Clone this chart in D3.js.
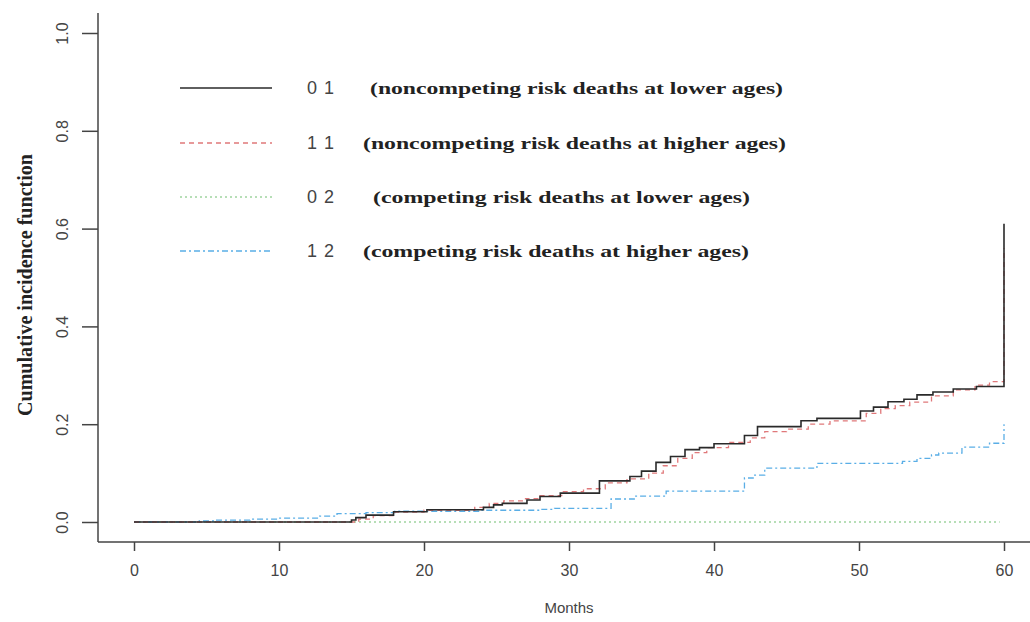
<!DOCTYPE html>
<html>
<head>
<meta charset="utf-8">
<script src="https://cdn.jsdelivr.net/npm/d3@7"></script>
<style>
  body { margin: 0; background: #fff; }
  svg { display: block; }
</style>
</head>
<body>
<div id="chart"></div>
<script>
// step curves (months, cumulative incidence)
var months01 = [0, 15.0, 15.3, 16.0, 17.9, 20.2, 24.1, 24.8, 25.4, 27.1, 28.0, 29.4, 32.1, 34.2, 35.0, 36.0, 37.0, 38.0, 39.0, 40.0, 42.1, 43.0, 46.0, 47.1, 50.1, 51.0, 52.0, 53.1, 54.0, 55.1, 56.5, 58.1, 60.0];
var cif01 = [0, 0.004, 0.009, 0.014, 0.021, 0.025, 0.030, 0.035, 0.038, 0.045, 0.052, 0.059, 0.084, 0.093, 0.104, 0.122, 0.134, 0.148, 0.152, 0.160, 0.177, 0.195, 0.207, 0.212, 0.227, 0.235, 0.246, 0.251, 0.260, 0.266, 0.272, 0.277, 0.61];

var months11 = [0, 15.5, 16.5, 18.0, 20.0, 23.5, 24.5, 25.5, 27.0, 28.0, 29.5, 31.0, 32.5, 34.0, 35.5, 36.5, 37.5, 38.5, 39.5, 41.0, 42.5, 43.5, 45.0, 46.5, 48.0, 50.5, 51.5, 52.5, 53.5, 55.0, 56.5, 58.0, 59.0, 60.0];
var cif11 = [0, 0.006, 0.013, 0.020, 0.024, 0.030, 0.038, 0.043, 0.048, 0.054, 0.062, 0.068, 0.080, 0.088, 0.100, 0.115, 0.130, 0.142, 0.152, 0.163, 0.172, 0.185, 0.190, 0.200, 0.207, 0.222, 0.232, 0.238, 0.245, 0.258, 0.270, 0.280, 0.287, 0.56];

var months02 = [0, 59.7];
var cif02 = [0, 0];

var months12 = [0, 4.5, 5.7, 8.0, 10.0, 12.8, 14.0, 16.0, 18.0, 24.0, 28.0, 29.0, 32.9, 34.5, 36.7, 42.1, 42.7, 43.5, 47.1, 53.0, 54.0, 55.0, 55.5, 57.1, 59.0, 60.0];
var cif12 = [0, 0.002, 0.004, 0.006, 0.008, 0.012, 0.017, 0.019, 0.022, 0.024, 0.026, 0.028, 0.047, 0.053, 0.063, 0.090, 0.096, 0.110, 0.120, 0.124, 0.130, 0.137, 0.141, 0.153, 0.161, 0.20];

var groupCodes = ["0 1", "1 1", "0 2", "1 2"];
var groupLabels = [
  "(noncompeting risk deaths at lower ages)",
  "(noncompeting risk deaths at higher ages)",
  "(competing risk deaths at lower ages)",
  "(competing risk deaths at higher ages)"
];
var xTicks = [0, 10, 20, 30, 40, 50, 60];
var yTicks = [0, 0.2, 0.4, 0.6, 0.8, 1.0];

var width = 1030, height = 622;

var svg = d3.select("#chart").append("svg")
  .attr("width", width)
  .attr("height", height)
  .style("background", "#fff");

var x = d3.scaleLinear().domain([0, 60]).range([134, 1004]);
var y = d3.scaleLinear().domain([0, 1]).range([522, 33]);

// L shaped frame like R's bty="l"
svg.append("line")
  .attr("x1", 98).attr("x2", 98)
  .attr("y1", 13).attr("y2", 542)
  .attr("stroke", "#444").attr("stroke-width", 1.5);
svg.append("line")
  .attr("x1", 98).attr("x2", width)
  .attr("y1", 542).attr("y2", 542)
  .attr("stroke", "#444").attr("stroke-width", 1.5);

var xAxis = d3.axisBottom(x).tickValues(xTicks).tickSize(9).tickPadding(14)
  .tickFormat(d3.format("d"));
svg.append("g")
  .attr("transform", "translate(0,542)")
  .call(xAxis)
  .call(g => g.select(".domain").remove())
  .call(g => g.selectAll("line").attr("stroke", "#444").attr("stroke-width", 1.5))
  .call(g => g.selectAll("text")
    .attr("fill", "#444")
    .style("font-family", "Liberation Sans, Arial, sans-serif")
    .style("font-size", "16px"));

var yAxis = d3.axisLeft(y).tickValues(yTicks).tickSize(16)
  .tickFormat(d3.format(".1f"));
svg.append("g")
  .attr("transform", "translate(98,0)")
  .call(yAxis)
  .call(g => g.select(".domain").remove())
  .call(g => g.selectAll("line").attr("stroke", "#444").attr("stroke-width", 1.5))
  .call(g => g.selectAll("text")
    .attr("transform", "rotate(-90)")
    .attr("x", 0)
    .attr("y", -36)
    .attr("dy", "0.35em")
    .attr("text-anchor", "middle")
    .attr("fill", "#444")
    .style("font-family", "Liberation Sans, Arial, sans-serif")
    .style("font-size", "16px"));

// axis titles
svg.append("text")
  .attr("x", x(30))
  .attr("y", 608)
  .attr("dy", "0.35em")
  .attr("text-anchor", "middle")
  .attr("fill", "#444")
  .style("font-family", "Liberation Sans, Arial, sans-serif")
  .style("font-size", "15px")
  .text("Months");

svg.append("text")
  .attr("transform", "translate(25,285) rotate(-90)")
  .attr("dy", "0.35em")
  .attr("text-anchor", "middle")
  .attr("fill", "#222")
  .attr("textLength", 262)
  .attr("lengthAdjust", "spacingAndGlyphs")
  .style("font-family", "Liberation Serif, Times New Roman, serif")
  .style("font-weight", "bold")
  .style("font-size", "20px")
  .text("Cumulative incidence function");

var series = [
  { m: months01, v: cif01, color: "#2a2a2a", dash: null, w: 1.6 },
  { m: months11, v: cif11, color: "#e0787a", dash: "5,4", w: 1.3 },
  { m: months02, v: cif02, color: "#9fd49f", dash: "2,3", w: 1.3 },
  { m: months12, v: cif12, color: "#5aaee6", dash: "6,3,2,3", w: 1.3 }
];

var line = d3.line()
  .x(d => x(d[0]))
  .y(d => y(d[1]))
  .curve(d3.curveStepAfter);

// draw back to front so the black curve sits on top
[2, 3, 1, 0].forEach(function (i) {
  var s = series[i];
  var pts = s.m.map((t, j) => [t, s.v[j]]);
  svg.append("path")
    .datum(pts)
    .attr("fill", "none")
    .attr("stroke", s.color)
    .attr("stroke-width", s.w)
    .attr("stroke-dasharray", s.dash)
    .attr("d", line);
});

// legend
var legendY = [88, 143, 197, 251];
var labelStart = [370, 363, 373, 363];
var labelLen = [413, 423, 377, 386];

series.forEach(function (s, i) {
  var g = svg.append("g").attr("transform", "translate(0," + legendY[i] + ")");
  g.append("line")
    .attr("x1", 180).attr("x2", 272)
    .attr("stroke", s.color)
    .attr("stroke-width", s.w)
    .attr("stroke-dasharray", s.dash);
  g.append("text")
    .attr("x", 307)
    .attr("dy", "0.35em")
    .attr("fill", "#444")
    .style("font-family", "Liberation Sans, Arial, sans-serif")
    .style("font-size", "18px")
    .style("letter-spacing", "1px")
    .text(groupCodes[i]);
  g.append("text")
    .attr("x", labelStart[i])
    .attr("dy", "0.35em")
    .attr("fill", "#222")
    .attr("textLength", labelLen[i])
    .attr("lengthAdjust", "spacingAndGlyphs")
    .style("font-family", "Liberation Serif, Times New Roman, serif")
    .style("font-weight", "bold")
    .style("font-size", "16px")
    .text(groupLabels[i]);
});
</script>
</body>
</html>
